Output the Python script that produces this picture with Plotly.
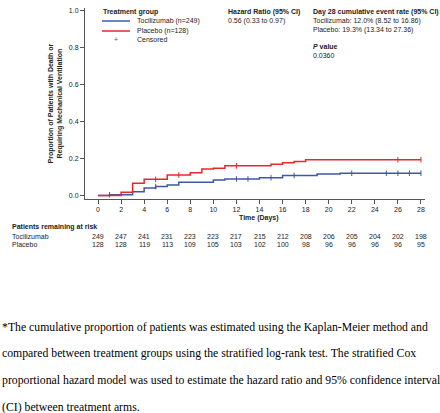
import plotly.graph_objects as go

# ---- data ----
days_toci = [0, 1, 3, 4, 5, 6, 7, 10, 11, 14, 16, 19, 21, 28]
cum_toci = [0, 0.004, 0.02, 0.04, 0.048, 0.057, 0.071, 0.084, 0.089, 0.096, 0.108, 0.116, 0.120, 0.120]
days_plac = [0, 2, 3, 4, 6, 8, 9, 10, 11, 15, 16, 17, 18, 28]
cum_plac = [0, 0.017, 0.066, 0.087, 0.110, 0.123, 0.143, 0.147, 0.160, 0.169, 0.177, 0.184, 0.193, 0.193]
cens_toci = [1, 5, 12, 13, 15, 17, 22, 25, 26, 27, 28]
cens_plac = [5, 7, 12, 26, 28]
risk_days = [0, 2, 4, 6, 8, 10, 12, 14, 16, 18, 20, 22, 24, 26, 28]
risk_toci = [249, 247, 241, 231, 223, 223, 217, 215, 212, 208, 206, 205, 204, 202, 198]
risk_plac = [128, 128, 119, 113, 109, 105, 103, 102, 100, 98, 96, 96, 96, 96, 95]
x_ticks = list(range(0, 29, 2))
y_ticks = [0.0, 0.2, 0.4, 0.6, 0.8, 1.0]

BLUE = "#3F57A6"
RED = "#E5282C"
SANS = "Liberation Sans, Arial, sans-serif"
SERIF = "Liberation Serif, Times New Roman, serif"


def step_value(days, vals, t):
    v = vals[0]
    for d, c in zip(days, vals):
        if d <= t:
            v = c
    return v


fig = go.Figure()
fig.add_trace(go.Scatter(x=days_toci, y=cum_toci, mode="lines", line=dict(color=BLUE, width=1.5, shape="hv"),
                         showlegend=False, hoverinfo="skip"))
fig.add_trace(go.Scatter(x=days_plac, y=cum_plac, mode="lines", line=dict(color=RED, width=1.5, shape="hv"),
                         showlegend=False, hoverinfo="skip"))
fig.add_trace(go.Scatter(x=cens_toci, y=[step_value(days_toci, cum_toci, t) for t in cens_toci], mode="markers",
                         marker=dict(symbol="line-ns", size=4, line=dict(color=BLUE, width=1)),
                         showlegend=False, hoverinfo="skip"))
fig.add_trace(go.Scatter(x=cens_plac, y=[step_value(days_plac, cum_plac, t) for t in cens_plac], mode="markers",
                         marker=dict(symbol="line-ns", size=4, line=dict(color=RED, width=1)),
                         showlegend=False, hoverinfo="skip"))

W, H = 440, 413
L, R, T, B = 85, 15, 8, 214
PW, PH = W - L - R, H - T - B


def px(x):
    return (x - L) / PW


def py(y):
    return (H - B - y) / PH


anns = []


def ann(x, y, text, size=7, bold=False, xanchor="left", font=SANS, color="#222", xref="paper", angle=0):
    if bold:
        text = "<b>" + text + "</b>"
    anns.append(dict(x=px(x) if xref == "paper" else x, y=py(y), xref=xref, yref="paper", text=text,
                     showarrow=False, xanchor=xanchor, yanchor="middle", textangle=angle,
                     font=dict(family=font, size=size, color=color)))


# legend
ann(101, 12, "Treatment group", bold=True)
ann(135, 21, "Tocilizumab (n=249)")
ann(135, 31, "Placebo (n=128)")
ann(116, 40, "+", xanchor="center", color="#555")
ann(135, 40, "Censored")
# statistics
ann(226, 12, "Hazard Ratio (95% CI)", bold=True)
ann(226, 21, "0.56 (0.33 to 0.97)")
ann(311, 12, "Day 28 cumulative event rate (95% CI)", bold=True)
ann(311, 21, "Tocilizumab: 12.0% (8.52 to 16.86)")
ann(311, 30, "Placebo: 19.3% (13.34 to 27.36)")
ann(311, 46, "<i>P</i> value", bold=True)
ann(311, 55, "0.0360")
# axis titles
ann(54.5, 104, "Proportion of Patients with Death or<br>Requiring Mechanical Ventilation", bold=True,
    xanchor="center", angle=-90)
ann(259, 218, "Time (Days)", bold=True, xanchor="center")
# risk table
ann(10, 227, "Patients remaining at risk", bold=True)
ann(10, 236, "Tocilizumab")
ann(10, 245, "Placebo")
for d, a, b in zip(risk_days, risk_toci, risk_plac):
    ann(d, 236, str(a), xanchor="center", xref="x")
    ann(d, 245, str(b), xanchor="center", xref="x")
# footnote
foot = ["*The cumulative proportion of patients was estimated using the Kaplan-Meier method and",
        "compared between treatment groups using the stratified log-rank test. The stratified Cox",
        "proportional hazard model was used to estimate the hazard ratio and 95% confidence interval",
        "(CI) between treatment arms."]
for i, line in enumerate(foot):
    ann(0, 327 + 26.8 * i, line, size=11.75, font=SERIF, color="#000")

shapes = [
    dict(type="line", xref="paper", yref="paper", x0=px(102), x1=px(130), y0=py(21), y1=py(21),
         line=dict(color=BLUE, width=1.5)),
    dict(type="line", xref="paper", yref="paper", x0=px(102), x1=px(130), y0=py(31), y1=py(31),
         line=dict(color=RED, width=1.5)),
]

axis_common = dict(showline=True, linecolor="#555", linewidth=1, ticks="outside", ticklen=4, tickcolor="#555",
                   showgrid=False, zeroline=False, tickfont=dict(family=SANS, size=7, color="#222"))
fig.update_layout(
    width=W, height=H, autosize=False,
    margin=dict(l=L, r=R, t=T, b=B),
    paper_bgcolor="white", plot_bgcolor="white",
    xaxis=dict(range=[-1.13, 28.35], tickvals=x_ticks, **axis_common),
    yaxis=dict(range=[-0.019, 1.012], tickvals=y_ticks, tickformat=".1f", **axis_common),
    annotations=anns, shapes=shapes,
)
fig.write_html("out.html", config={"displayModeBar": False},
               post_script="document.body.style.margin='0';document.body.style.overflow='hidden';")
